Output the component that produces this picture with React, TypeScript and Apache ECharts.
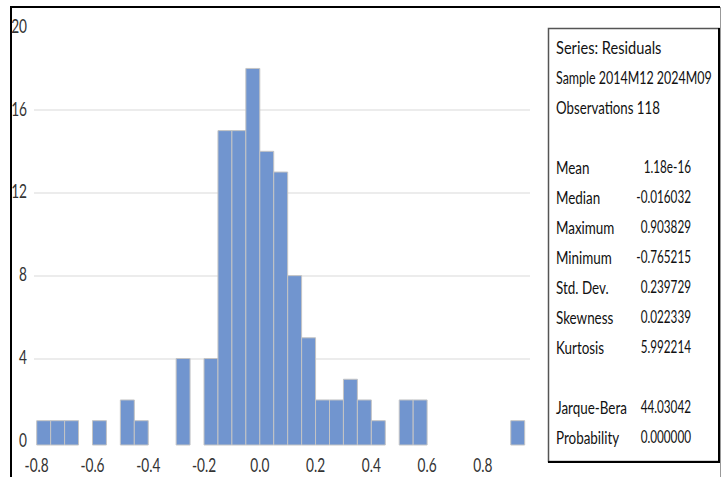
import React, { useEffect, useRef } from "react";
import * as echarts from "echarts";

// ---- data ----
const binStarts = [
  -0.8, -0.75, -0.7, -0.65, -0.6, -0.55, -0.5, -0.45, -0.4, -0.35, -0.3, -0.25,
  -0.2, -0.15, -0.1, -0.05, 0.0, 0.05, 0.1, 0.15, 0.2, 0.25, 0.3, 0.35, 0.4,
  0.45, 0.5, 0.55, 0.6, 0.65, 0.7, 0.75, 0.8, 0.85, 0.9,
];
const counts = [
  1, 1, 1, 0, 1, 0, 2, 1, 0, 0, 4, 0, 4, 15, 15, 18, 14, 13, 8, 5, 2, 2, 3, 2,
  1, 0, 2, 2, 0, 0, 0, 0, 0, 0, 1,
];
const binWidth = 0.05;
const yTickValues = [0, 4, 8, 12, 16, 20];
const yTickLabels = ["0", "4", "8", "12", "16", "20"];
const xTickValues = [-0.8, -0.6, -0.4, -0.2, 0.0, 0.2, 0.4, 0.6, 0.8];
const xTickLabels = ["-0.8", "-0.6", "-0.4", "-0.2", "0.0", "0.2", "0.4", "0.6", "0.8"];

const headerLines = ["Series: Residuals", "Sample 2014M12 2024M09", "Observations 118"];
const statLabels = ["Mean", "Median", "Maximum", "Minimum", "Std. Dev.", "Skewness", "Kurtosis"];
const statValues = ["1.18e-16", "-0.016032", "0.903829", "-0.765215", "0.239729", "0.022339", "5.992214"];
const testLabels = ["Jarque-Bera", "Probability"];
const testValues = ["44.03042", "0.000000"];

const FONT = "Lato, 'Noto Sans', sans-serif";

export default function App() {
  const ref = useRef<HTMLDivElement>(null);

  useEffect(() => {
    if (!ref.current) return;
    const chart = echarts.init(ref.current, null, { renderer: "svg" });

    const labelX = 556;
    const valueRight = 691;
    const headerScales = [0.86, 0.733, 0.78];
    const labelScale = 0.79;
    const valueScale = 0.69;
    const rowY = (r: number) => 47 + 30 * r;
    const mkText = (t: string, x: number, y: number, align: string, s: number, size = 17, fill = "#111") => ({
      type: "text",
      x,
      y,
      scaleX: s,
      z: 20,
      style: { text: t, font: `${size}px ${FONT}`, fill, verticalAlign: "middle", align },
    });
    const panelTexts: any[] = [];
    headerLines.forEach((t, i) => panelTexts.push(mkText(t, labelX, rowY(i), "left", headerScales[i])));
    statLabels.forEach((t, i) => {
      panelTexts.push(mkText(t, labelX, rowY(4 + i), "left", labelScale));
      panelTexts.push(mkText(statValues[i], valueRight, rowY(4 + i), "right", valueScale));
    });
    testLabels.forEach((t, i) => {
      panelTexts.push(mkText(t, labelX, rowY(12 + i), "left", labelScale));
      panelTexts.push(mkText(testValues[i], valueRight, rowY(12 + i), "right", valueScale));
    });

    const gridColors = yTickValues.map((v, i) =>
      i === 0 || i === yTickValues.length - 1 ? "rgba(0,0,0,0)" : "#e6e6e6"
    );

    const staticGraphics: any[] = [
      {
        type: "polyline",
        shape: { points: [[11, 480], [11, 7], [720, 7]] },
        style: { stroke: "#000", lineWidth: 2, fill: "none" },
        z: 10,
      },
      {
        type: "line",
        shape: { x1: 720.5, y1: 7, x2: 720.5, y2: 480 },
        style: { stroke: "#999", lineWidth: 1 },
        z: 10,
      },
      {
        type: "rect",
        shape: { x: 548.5, y: 28.5, width: 170.5, height: 433 },
        style: { fill: "#fff", stroke: "#555", lineWidth: 1.5 },
        z: 10,
      },
      {
        type: "polyline",
        shape: { points: [[548, 462], [719, 462], [719, 28]] },
        style: { stroke: "#000", lineWidth: 2, fill: "none" },
        z: 11,
      },
      ...panelTexts,
    ];

    const option: any = {
      animation: false,
      backgroundColor: "#ffffff",
      grid: [
        { left: 36.7, top: 27, width: 493.3, height: 418, containLabel: false },
        { left: 34, top: 27, width: 496, height: 414.4, containLabel: false },
      ],
      xAxis: [
        {
          type: "value",
          gridIndex: 0,
          min: -0.8,
          max: 0.969,
          interval: 0.2,
          axisLine: { show: false },
          axisTick: { show: false },
          splitLine: { show: false },
          axisLabel: { show: false },
        },
        { type: "value", gridIndex: 1, min: -0.8, max: 0.969, show: false },
      ],
      yAxis: [
        { type: "value", gridIndex: 0, min: -0.174, max: 20, show: false },
        {
          type: "value",
          gridIndex: 1,
          min: yTickValues[0],
          max: yTickValues[yTickValues.length - 1],
          interval: 4,
          axisLine: { show: false },
          axisTick: { show: false },
          axisLabel: { show: false },
          splitLine: { show: true, lineStyle: { color: gridColors, width: 1.5 } },
        },
      ],
      series: [
        {
          type: "custom",
          xAxisIndex: 0,
          yAxisIndex: 0,
          data: binStarts.map((b, i) => [b, counts[i]]),
          renderItem: (params: any, api: any) => {
            const x0 = api.value(0);
            const y = api.value(1);
            if (!y) return null;
            const p0 = api.coord([x0, y]);
            const p1 = api.coord([x0 + binWidth, -0.174]);
            return {
              type: "rect",
              shape: { x: p0[0], y: p0[1], width: p1[0] - p0[0], height: p1[1] - p0[1] },
              style: { fill: "#7195cf", stroke: "#c4c4c4", lineWidth: 1 },
            };
          },
        },
      ],
      graphic: staticGraphics,
    };

    chart.setOption(option);

    // Tick labels placed through the axes' own scales (narrow, like the original)
    const axisTexts: any[] = [];
    const gridLeftPx = chart.convertToPixel({ xAxisIndex: 1 }, -0.8) as number;
    yTickValues.forEach((v, i) => {
      const py = chart.convertToPixel({ yAxisIndex: 1 }, v) as number;
      axisTexts.push(mkText(yTickLabels[i], 27, py - 1.2, "right", 0.72, 19, "#333"));
    });
    xTickValues.forEach((v, i) => {
      const px = chart.convertToPixel({ xAxisIndex: 0 }, v) as number;
      axisTexts.push(mkText(xTickLabels[i], px, 465, "center", 0.72, 19, "#333"));
    });
    void gridLeftPx;
    chart.setOption({ graphic: [...staticGraphics, ...axisTexts] });

    return () => chart.dispose();
  }, []);

  return (
    <div
      ref={ref}
      style={{ position: "absolute", left: 0, top: 0, width: 725, height: 477, background: "#fff" }}
    />
  );
}
